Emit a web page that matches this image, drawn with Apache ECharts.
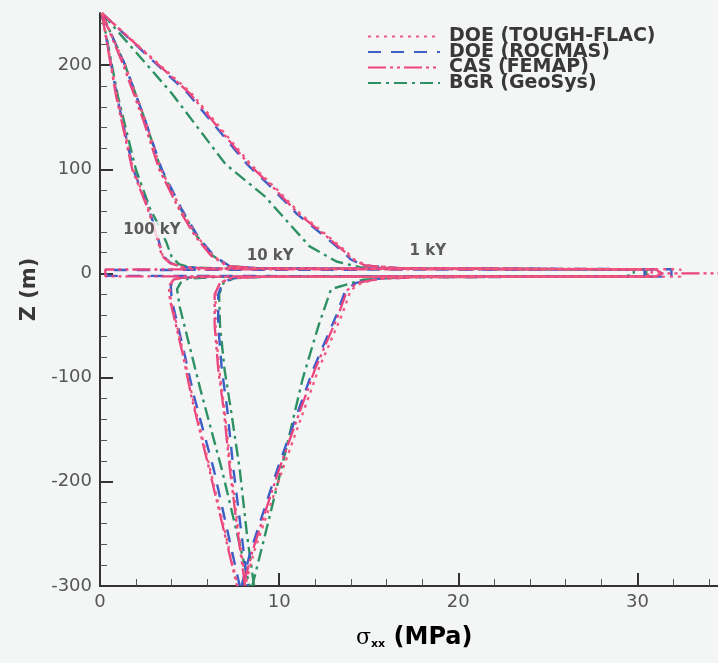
<!DOCTYPE html>
<html>
<head>
<meta charset="utf-8">
<script src="https://cdn.jsdelivr.net/npm/echarts@6/dist/echarts.min.js"></script>
<style>
  html, body { margin: 0; padding: 0; background: #f4f6f6; }
  #chart { width: 718px; height: 663px; }
</style>
</head>
<body>
<div id="chart"></div>
<script>
// profiles of sigma_xx [MPa] vs depth Z [m]
const flac1k = [[0.1,250],[5.1,173],[8.4,105],[9.8,82],[11.2,57],[12.75,35.5],[13.75,21],[14.2,13.4],[14.9,7.7],[17,5],[32.4,4],[32.4,-3],[18,-3.5],[15.7,-5],[14.6,-9],[14.0,-16],[13.5,-40],[12.2,-92],[10.2,-188],[8.6,-267],[8.1,-300]];
const rocmas1k = [[0.1,250],[4.9,173],[8.2,105],[9.6,82],[11.0,57],[12.55,35.5],[13.55,21],[14.0,13.4],[14.7,7.7],[16.7,5],[31.9,4],[31.9,-3],[18,-3.5],[15.5,-5],[14.3,-9],[13.7,-16],[13.2,-40],[11.9,-92],[9.9,-188],[8.4,-267],[7.9,-300]];
const femap1k = [[0.1,250],[5.0,173],[8.3,105],[9.7,82],[11.1,57],[12.65,35.5],[13.65,21],[14.1,13.4],[14.8,7.7],[16.7,5],[31,4],[31.4,0],[40,0],[31.4,0],[31,-3],[18,-3.5],[15.6,-5],[14.4,-9],[13.8,-16],[13.3,-40],[12.0,-92],[10.0,-188],[8.5,-267],[8.0,-300]];
const geosys1k = [[0.1,250],[4.0,173],[7.0,105],[9.2,74],[11.7,26],[13.2,11.5],[14.5,6],[16.7,4.5],[30.5,4],[30.5,-3],[17,-3.5],[14.7,-6],[12.9,-15],[12.2,-50],[11.3,-102],[10.3,-175],[9.2,-252],[8.5,-300]];

const flac10k = [[0.1,250],[1.4,200],[2.5,148],[3.4,100],[4.5,62],[5.4,36],[6.3,17],[7.2,7],[9,4.8],[31.2,4],[31.2,-3],[9,-3.3],[7.3,-4.5],[6.7,-9],[6.45,-20],[6.45,-50],[6.65,-92],[6.95,-130],[7.3,-188],[7.75,-250],[8.15,-300]];
const rocmas10k = [[0.1,250],[1.4,200],[2.5,148],[3.45,100],[4.55,62],[5.45,36],[6.35,17],[7.25,7],[9,4.8],[31.0,4],[0.4,3.3],[0.4,-2.3],[31.0,-3],[9,-3.3],[7.4,-4.5],[6.85,-9],[6.6,-20],[6.6,-50],[6.8,-92],[7.1,-130],[7.45,-188],[7.9,-250],[8.25,-300]];
const femap10k = [[0.1,250],[1.3,200],[2.4,148],[3.3,100],[4.4,62],[5.3,36],[6.2,17],[7.1,7],[8.9,4.8],[30.8,4],[30.8,-3],[9,-3.3],[7.3,-4.5],[6.7,-9],[6.4,-20],[6.4,-50],[6.6,-92],[6.9,-130],[7.25,-188],[7.7,-250],[8.1,-300]];
const geosys10k = [[0.1,250],[1.4,200],[2.5,148],[3.4,100],[4.5,62],[5.4,36],[6.3,17],[7.2,7],[9,4.8],[29.8,4],[29.8,-3],[9,-3.3],[7.5,-4.5],[6.9,-9],[6.65,-20],[6.7,-50],[6.95,-92],[7.3,-130],[7.8,-188],[8.2,-250],[8.6,-300]];

const flac100k = [[0.1,250],[0.95,170],[1.85,100],[2.65,65],[3.05,45],[3.3,30],[3.5,17],[3.95,10],[4.6,6],[6,4.8],[30.6,4],[30.6,-3],[6,-3.3],[4.6,-4],[4.1,-6],[3.9,-12],[3.95,-25],[4.65,-76],[5.15,-118],[6.15,-188],[7.7,-300]];
const rocmas100k = [[0.1,250],[0.95,170],[1.85,100],[2.65,65],[3.05,45],[3.3,30],[3.5,17],[3.95,10],[4.6,6],[6,4.8],[30.4,4],[30.4,-3],[6,-3.3],[4.6,-4],[4.1,-6],[3.95,-12],[4.0,-25],[4.7,-76],[5.25,-118],[6.35,-188],[7.8,-300]];
const femap100k = [[0.1,250],[0.9,170],[1.8,100],[2.6,65],[3.0,45],[3.25,30],[3.45,17],[3.9,10],[4.6,6],[6,4.8],[30.2,4],[0.3,3.8],[0.3,-2.8],[30.2,-3],[6,-3.3],[4.6,-4],[4.1,-6],[3.85,-12],[3.9,-25],[4.6,-76],[5.1,-118],[6.1,-188],[7.65,-300]];
const geosys100k = [[0.1,250],[1.0,170],[2.0,100],[2.8,62],[3.4,42],[3.7,30],[4.0,16],[4.4,9],[5.0,6],[6.5,4.8],[29.5,4],[29.5,-3],[6.5,-3.3],[4.9,-5],[4.5,-9],[4.3,-15],[4.45,-32],[5.6,-111],[6.8,-188],[8.35,-300]];

const modelNames = ["DOE (TOUGH-FLAC)", "DOE (ROCMAS)", "CAS (FEMAP)", "BGR (GeoSys)"];
const timeLabels = [[2.9, 42, "100 kY"], [9.5, 17, "10 kY"], [18.3, 21, "1 kY"]];
const xTickValues = [0, 10, 20, 30];
const yTickValues = [-300, -200, -100, 0, 100, 200];

const styles = {
    "DOE (TOUGH-FLAC)": { color: "#f0587c", width: 2.3, type: [3, 5] },
    "DOE (ROCMAS)": { color: "#3b5fc6", width: 2.4, type: [13, 10] },
    "CAS (FEMAP)": { color: "#e9447f", width: 2.3, type: [18, 4, 3, 4, 3, 4] },
    "BGR (GeoSys)": { color: "#2e9163", width: 2.4, type: [13, 5, 3, 5] }
};

const curves = [
    ["BGR (GeoSys)", geosys1k], ["BGR (GeoSys)", geosys10k], ["BGR (GeoSys)", geosys100k],
    ["DOE (ROCMAS)", rocmas1k], ["DOE (ROCMAS)", rocmas10k], ["DOE (ROCMAS)", rocmas100k],
    ["CAS (FEMAP)", femap1k], ["CAS (FEMAP)", femap10k], ["CAS (FEMAP)", femap100k],
    ["DOE (TOUGH-FLAC)", flac1k], ["DOE (TOUGH-FLAC)", flac10k], ["DOE (TOUGH-FLAC)", flac100k]
];

const series = curves.map(c => ({
    name: c[0],
    type: "line",
    data: c[1],
    symbol: "none",
    clip: true,
    color: styles[c[0]].color,
    lineStyle: styles[c[0]]
}));

series.push({
    name: "labels",
    type: "scatter",
    data: timeLabels,
    symbolSize: 1,
    itemStyle: { color: "rgba(0,0,0,0)" },
    label: {
        show: true,
        position: "inside",
        formatter: p => p.data[2],
        fontFamily: "DejaVu Sans",
        fontWeight: "bold",
        fontSize: 15,
        color: "#353535",
        backgroundColor: "#f4f6f6",
        padding: [1, 2]
    },
    z: 10
});

const chart = echarts.init(document.getElementById("chart"));
const option = {
    backgroundColor: "#f4f6f6",
    animation: false,
    textStyle: { fontFamily: "DejaVu Sans" },
    grid: { left: 100, right: 0, top: 13, bottom: 77, outerBoundsMode: "none" },
    legend: {
        data: modelNames,
        orient: "vertical",
        left: 362,
        top: 22,
        itemWidth: 72,
        itemHeight: 10,
        itemGap: -3.5,
        itemStyle: { opacity: 0 },
        textStyle: { fontWeight: "bold", fontSize: 19, lineHeight: 16, color: "#383838", padding: [0, 0, 0, 4] }
    },
    xAxis: {
        type: "value",
        min: 0,
        max: 34.5,
        interval: 10,
        axisLine: { onZero: false, lineStyle: { color: "#333", width: 2 } },
        axisTick: { inside: true, length: 13, customValues: xTickValues, lineStyle: { color: "#333", width: 2 } },
        minorTick: { show: true, splitNumber: 5, length: 7, lineStyle: { color: "#555", width: 1 } },
        splitLine: { show: false },
        axisLabel: { color: "#555", fontSize: 18, margin: 7, customValues: xTickValues }
    },
    yAxis: {
        type: "value",
        min: -300,
        max: 250,
        interval: 100,
        name: "Z (m)",
        nameLocation: "middle",
        nameGap: 60,
        nameTextStyle: { fontWeight: "bold", fontSize: 21, color: "#383838", padding: [0, 0, 0, 20] },
        axisLine: { onZero: false, lineStyle: { color: "#333", width: 2 } },
        axisTick: { inside: true, length: 13, customValues: yTickValues, lineStyle: { color: "#333", width: 2 } },
        minorTick: { show: true, splitNumber: 5, length: 7, lineStyle: { color: "#555", width: 1 } },
        splitLine: { show: false },
        axisLabel: { color: "#555", fontSize: 18, margin: 8, customValues: yTickValues }
    },
    graphic: [{
        type: "text",
        left: 356,
        top: 626,
        style: {
            text: "{s|σ}{sub|xx}{b| (MPa)}",
            rich: {
                s: { fontFamily: "DejaVu Serif", fontSize: 22, color: "#383838", lineHeight: 28 },
                sub: { fontFamily: "DejaVu Sans", fontWeight: "bold", fontSize: 11, color: "#383838", padding: [13, 0, 0, 0], lineHeight: 28 },
                b: { fontFamily: "DejaVu Sans", fontWeight: "bold", fontSize: 24, color: "#383838", lineHeight: 28 }
            }
        }
    }],
    series: series
};
chart.setOption(option);
</script>
</body>
</html>
